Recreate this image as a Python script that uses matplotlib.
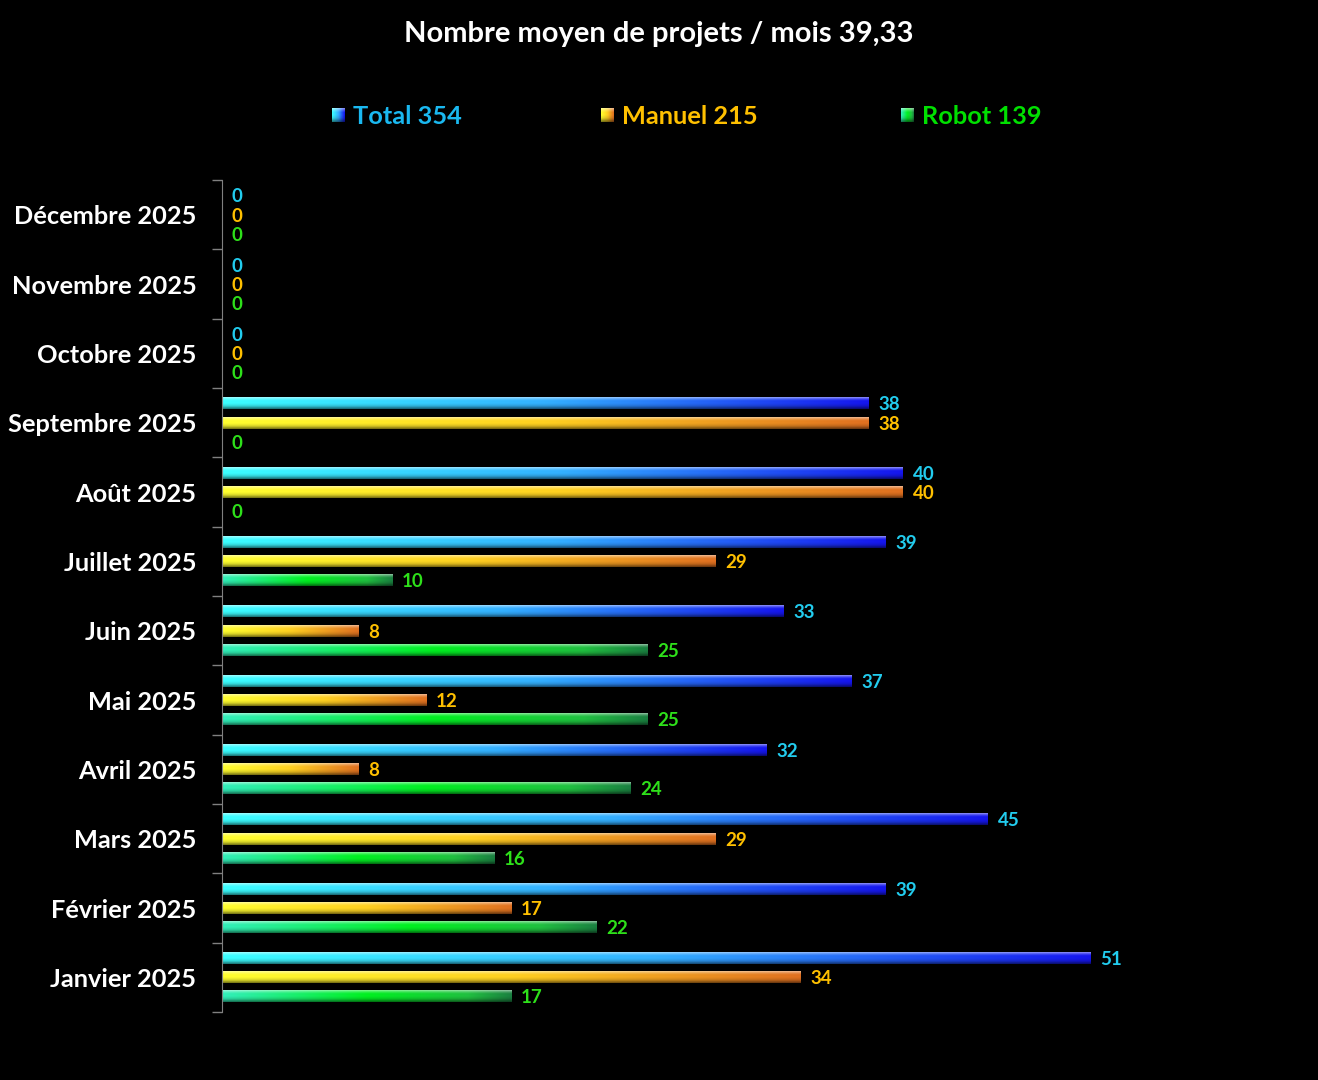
"""Projets par mois : Total / Manuel / Robot, barres horizontales en dégradé."""
import matplotlib
matplotlib.use("Agg")
import matplotlib.pyplot as plt
import numpy as np
from matplotlib.colors import LinearSegmentedColormap

plt.rcParams["font.family"] = ["Lato", "DejaVu Sans"]
plt.rcParams["font.weight"] = "bold"

months = ["Janvier 2025", "Février 2025", "Mars 2025", "Avril 2025", "Mai 2025",
          "Juin 2025", "Juillet 2025", "Août 2025", "Septembre 2025",
          "Octobre 2025", "Novembre 2025", "Décembre 2025"]
total = [51, 39, 45, 32, 37, 33, 39, 40, 38, 0, 0, 0]
manuel = [34, 17, 29, 8, 12, 8, 29, 40, 38, 0, 0, 0]
robot = [17, 22, 16, 24, 25, 25, 10, 0, 0, 0, 0, 0]

title = "Nombre moyen de projets / mois 39,33"
legend_labels = ["Total 354", "Manuel 215", "Robot 139"]

BG = "black"
series = [
    (total, LinearSegmentedColormap.from_list("t", ["#3CFFFF", "#33B0FF", "#1515EE"]),
     "#22CCEE", 0.275),
    (manuel, LinearSegmentedColormap.from_list("m", ["#FFFF30", "#FFD020", "#E07020"]),
     "#FFC000", 0.0),
    (robot, LinearSegmentedColormap.from_list(
        "r", [(0, "#33EEBB"), (0.5, "#00F020"), (0.85, "#20C040"), (1, "#1A8040")]),
     "#2EE01A", -0.275),
]
legend_colors = ["#1AB8F0", "#FFC000", "#00E000"]
BAR_H = 0.17


def gradient_image(cmap, ncols=256):
    """Horizontal colour ramp with a light top edge and dark bottom edge."""
    cols = cmap(np.linspace(0, 1, ncols))[:, :3]
    shade = np.array([0.45, 0.25, 0.1, 0.0, 0.0, 0.0, -0.05, -0.1, -0.2, -0.35, -0.5])
    img = np.empty((len(shade), ncols, 3))
    for i, s in enumerate(shade):
        if s >= 0:
            img[i] = cols + (1 - cols) * s
        else:
            img[i] = cols * (1 + s)
    return np.clip(img, 0, 1)


fig = plt.figure(figsize=(13.18, 10.8), dpi=100, facecolor=BG)
ax = fig.add_axes([222 / 1318, 1 - 1012 / 1080, (1290 - 222) / 1318, (1012 - 180) / 1080])
ax.set_facecolor(BG)

y = np.arange(len(months))
for values, cmap, lab_col, off in series:
    img = gradient_image(cmap)
    for yi, v in zip(y, values):
        yc = yi + off
        if v > 0:
            ax.imshow(img, extent=[0, v, yc - BAR_H / 2, yc + BAR_H / 2],
                      aspect="auto", interpolation="bilinear", zorder=2)
        ax.annotate(str(v), xy=(v, yc - 0.02), xytext=(7, 0), textcoords="offset points",
                    va="center", ha="left", color=lab_col, fontsize=13.5,
                    fontweight="bold")

ax.set_xlim(0, (1290 - 222) / 17.02)
ax.set_ylim(-0.5, len(months) - 0.5)
ax.set_aspect("auto")

ax.set_yticks(y)
ax.set_yticklabels(months, color="white", fontsize=18.3, fontweight="bold")
ax.set_yticks(np.arange(-0.5, len(months)), minor=True)
ax.tick_params(axis="y", which="major", length=0, pad=18.5)
ax.tick_params(axis="y", which="minor", length=7, color="#808080", width=1)
ax.set_xticks([])
for side in ["top", "right", "bottom"]:
    ax.spines[side].set_visible(False)
ax.spines["left"].set_color("#808080")

fig.text(0.5, 1 - 34 / 1080, title, ha="center", va="center", color="white",
         fontsize=21, fontweight="bold")

# manual legend
marker_x = [332, 601, 901]
for mx, lab, col, (_, cmap, _, _) in zip(marker_x, legend_labels, legend_colors, series):
    max_ = fig.add_axes([mx / 1318, 1 - 122 / 1080, 13 / 1318, 14 / 1080])
    max_.imshow(gradient_image(cmap, 16), aspect="auto", interpolation="bilinear")
    max_.axis("off")
    fig.text((mx + 21) / 1318, 1 - 116 / 1080, lab, ha="left", va="center",
             color=col, fontsize=18.3, fontweight="bold")

fig.savefig("out.png", dpi=100, facecolor=BG)
